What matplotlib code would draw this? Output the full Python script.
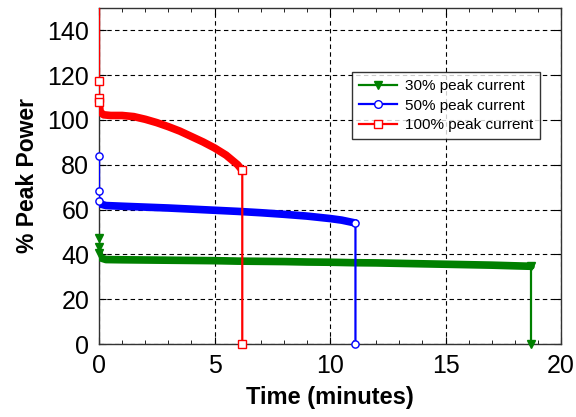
import matplotlib
matplotlib.use("Agg")
import matplotlib.pyplot as plt
from matplotlib.lines import Line2D
from matplotlib.ticker import MultipleLocator

plt.rcParams['font.family'] = ['Liberation Sans', 'DejaVu Sans']

# ---- data (time in minutes, % peak power) ----
t30 = [0.0, 0.0, 0.0, 0.05, 0.3, 1, 2, 3, 4, 5, 6, 7, 8, 9, 10, 11, 12, 13, 14, 15, 16, 17, 18, 18.7, 18.7]
p30 = [47.5, 43.5, 40.5, 38.5, 37.7, 37.6, 37.5, 37.4, 37.3, 37.2, 37.0, 36.9, 36.8, 36.6, 36.5, 36.3, 36.2, 36.0, 35.8, 35.6, 35.4, 35.2, 34.9, 34.7, 0.0]

t50 = [0.0, 0.0, 0.0, 0.05, 0.3, 1, 2, 3, 4, 5, 6, 7, 8, 9, 10, 10.5, 11.1, 11.1]
p50 = [84.0, 68.3, 64.0, 62.5, 61.8, 61.5, 61.1, 60.7, 60.2, 59.7, 59.2, 58.6, 57.9, 57.1, 56.0, 55.3, 54.0, 0.0]

t100 = [0.0, 0.0, 0.0, 0.0, 0.05, 0.2, 0.5, 1.0, 1.5, 2.0, 2.5, 3.0, 3.5, 4.0, 4.5, 5.0, 5.5, 6.0, 6.2, 6.2]
p100 = [160.0, 117.5, 110.0, 108.0, 103.5, 102.3, 102.0, 102.0, 101.5, 100.3, 98.8, 97.0, 95.0, 92.6, 90.2, 87.5, 84.3, 80.0, 77.5, 0.0]

labels = ['30% peak current', '50% peak current', '100% peak current']

series = [
    # (t, p, color, marker, markerface, band slice start, marker indices)
    (t30, p30, 'green', 'v', 'green', 2, [0, 1, 2, len(t30) - 2, len(t30) - 1]),
    (t50, p50, 'blue', 'o', 'white', 2, [0, 1, 2, len(t50) - 2, len(t50) - 1]),
    (t100, p100, 'red', 's', 'white', 3, [1, 2, 3, len(t100) - 2, len(t100) - 1]),
]

fig = plt.figure(figsize=(5.76, 4.17), dpi=100)
ax = fig.add_axes([0.172, 0.175, 0.802, 0.806])

handles = []
for (t, p, c, m, mfc, b0, mk), lab in zip(series, labels):
    ax.plot(t, p, color=c, lw=1.6, zorder=3, clip_on=True)
    ax.plot(t[b0:-1], p[b0:-1], color=c, lw=5.5, solid_capstyle='round', zorder=3)
    ax.plot([t[i] for i in mk], [p[i] for i in mk], linestyle='none', marker=m,
            markersize=5.2, markerfacecolor=mfc, markeredgecolor=c, markeredgewidth=1.0,
            zorder=4, clip_on=False)
    handles.append(Line2D([0], [0], color=c, lw=1.6, marker=m, markersize=5.5,
                          markerfacecolor=mfc, markeredgecolor=c, markeredgewidth=1.0))

ax.set_xlim(0, 20)
ax.set_ylim(0, 150)
ax.set_xticks([0, 5, 10, 15, 20])
ax.set_yticks([0, 20, 40, 60, 80, 100, 120, 140])
ax.xaxis.set_minor_locator(MultipleLocator(1))
ax.tick_params(which='both', direction='in', top=True, right=True, labelsize=18, pad=7)
ax.tick_params(which='major', length=5)
ax.tick_params(which='minor', length=3)
ax.grid(True, which='major', color='black', linestyle=(0, (4, 3)), lw=0.8)
for s in ax.spines.values():
    s.set_color('#333333')
    s.set_linewidth(1.0)

ax.set_xlabel('Time (minutes)', fontsize=17, fontweight='bold', labelpad=6)
ax.set_ylabel('% Peak Power', fontsize=16.5, fontweight='bold', labelpad=6)

leg = ax.legend(handles, labels, loc='upper right', bbox_to_anchor=(0.955, 0.808),
                fontsize=11, handlelength=2.5, frameon=True, fancybox=False,
                borderpad=0.45, labelspacing=0.35, handletextpad=0.5, borderaxespad=0)
leg.get_frame().set_edgecolor('black')
leg.get_frame().set_linewidth(1.0)

fig.savefig('out.png', dpi=100)
